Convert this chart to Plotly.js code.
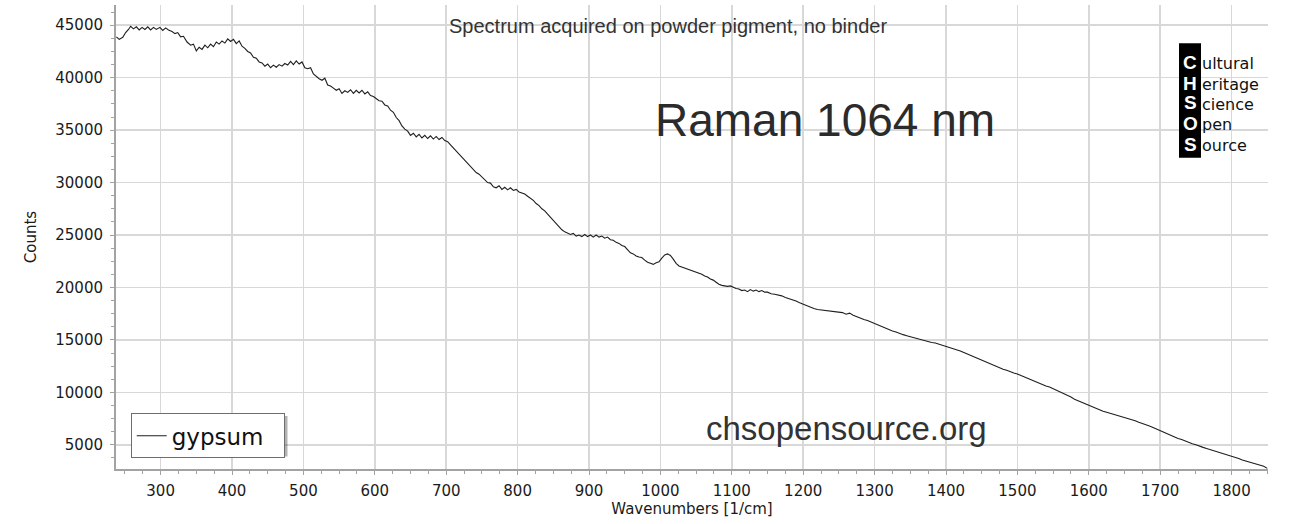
<!DOCTYPE html>
<html><head><meta charset="utf-8">
<script src="https://cdn.plot.ly/plotly-3.0.1.min.js"></script>
<style>html,body{margin:0;padding:0;background:#fff}#chart{width:1293px;height:524px}</style>
</head><body><div id="chart"></div>
<script>
const wavenumbers = [238,242,247,251,255,258,262,266,270,274,278,282,286,290,294,299,303,307,311,316,320,324,328,332,337,342,346,350,354,358,362,366,370,374,378,382,386,390,394,398,402,406,410,414,418,422,426,430,434,438,442,446,450,454,458,462,466,470,474,478,482,486,490,494,498,502,506,510,514,518,522,526,530,534,538,542,546,550,554,558,562,566,570,574,578,582,586,590,594,598,602,606,610,614,618,622,626,630,634,638,642,646,650,654,658,662,666,670,674,678,682,686,690,694,698,702,706,710,714,718,722,726,730,734,738,742,746,750,754,758,762,766,770,774,778,782,786,790,794,798,802,806,810,814,818,822,826,830,834,838,842,846,850,854,858,862,866,870,874,878,882,886,890,894,898,902,906,910,914,918,922,926,930,934,938,942,946,950,954,958,962,966,970,974,978,982,986,990,994,998,1002,1006,1010,1014,1018,1022,1026,1030,1034,1038,1042,1046,1050,1054,1058,1062,1066,1070,1074,1078,1082,1086,1090,1094,1098,1102,1106,1110,1114,1118,1122,1126,1130,1134,1138,1142,1146,1150,1155,1160,1165,1170,1175,1180,1185,1190,1195,1200,1205,1210,1215,1220,1225,1230,1235,1240,1245,1250,1255,1260,1265,1270,1275,1280,1285,1290,1295,1300,1305,1310,1315,1320,1325,1330,1335,1340,1345,1350,1355,1360,1365,1370,1375,1380,1385,1390,1395,1400,1405,1410,1415,1420,1425,1430,1435,1440,1445,1450,1455,1460,1465,1470,1475,1480,1485,1490,1495,1500,1505,1510,1515,1520,1525,1530,1535,1540,1545,1550,1555,1560,1565,1570,1575,1580,1585,1590,1595,1600,1605,1610,1615,1620,1625,1630,1635,1640,1645,1650,1655,1660,1665,1670,1675,1680,1685,1690,1695,1700,1705,1710,1715,1720,1725,1730,1735,1740,1745,1750,1755,1760,1765,1770,1775,1780,1785,1790,1795,1800,1805,1810,1815,1820,1825,1830,1835,1840,1845,1850];
const counts = [43900,43650,43850,44300,44600,44900,44650,44850,44550,44800,44600,44850,44550,44800,44600,44800,44500,44750,44550,44400,44200,44300,43900,43950,43400,43100,43200,42550,42900,42700,43100,42850,43200,42950,43400,43200,43500,43300,43700,43450,43650,43250,43500,43000,42800,42500,42350,41950,41850,41500,41400,41100,41300,40950,41200,41000,41250,41100,41350,41200,41550,41250,41600,41300,41500,40950,40850,40950,40350,40100,39900,39750,39950,39300,39200,39000,38800,38950,38500,38750,38600,38850,38500,38800,38550,38800,38450,38650,38300,38200,38000,37800,37750,37400,37300,36900,36700,36200,35900,35400,35100,34900,34500,34700,34350,34600,34250,34500,34200,34450,34150,34400,34100,34300,34000,33900,33600,33300,33000,32700,32400,32100,31800,31500,31200,30950,30800,30500,30300,30000,29950,29600,29500,29700,29350,29550,29300,29500,29250,29350,29100,29000,28900,28700,28500,28300,28000,27800,27500,27300,27000,26700,26300,26000,25700,25500,25300,25200,25050,25150,24900,25000,24850,25050,24850,25000,24800,25000,24800,24900,24700,24800,24550,24500,24300,24200,24000,23900,23600,23300,23200,23000,22900,22850,22600,22400,22300,22200,22350,22450,22800,23100,23200,23050,22700,22300,22050,21950,21850,21800,21700,21600,21500,21400,21250,21100,21000,20800,20700,20500,20300,20200,20150,20100,20150,20000,19900,19850,19700,19750,19600,19800,19650,19750,19600,19700,19550,19550,19400,19350,19300,19200,19050,18950,18800,18700,18550,18400,18250,18100,18000,17900,17850,17800,17750,17700,17650,17650,17600,17450,17550,17350,17200,17100,16950,16850,16700,16550,16400,16300,16150,16000,15850,15750,15600,15500,15400,15300,15250,15100,15000,14900,14850,14750,14700,14600,14500,14400,14300,14200,14100,13950,13800,13650,13550,13400,13250,13100,12950,12750,12600,12450,12300,12200,12100,11950,11850,11750,11600,11450,11350,11200,11050,10900,10750,10600,10500,10350,10200,10000,9850,9700,9550,9350,9200,9050,8900,8750,8600,8450,8300,8200,8100,8000,7900,7800,7700,7600,7550,7450,7300,7150,7050,6900,6800,6650,6500,6300,6150,6000,5850,5750,5600,5500,5350,5250,5100,5000,4850,4750,4650,4550,4450,4350,4250,4150,4050,3950,3850,3700,3550,3450,3350,3300,3200,3100,2950,2750];
const seriesName = "gypsum";
const subtitleText = "Spectrum acquired on powder pigment, no binder";
const bigTitleText = "Raman 1064 nm";
const siteText = "chsopensource.org";
const logoLetters = ["C","H","S","O","S"];
const logoWords = ["ultural","eritage","cience","pen","ource"];
const xTitle = "Wavenumbers [1/cm]";
const yTitle = "Counts";

const W = 1293, H = 524;
const L = 116, R = 25, T = 5, B = 55;
const pw = W - L - R, ph = H - T - B;
const px = x => (x - L) / pw;
const py = y => (H - B - y) / ph;

const axisFont = {family: "DejaVu Sans, Verdana, sans-serif", size: 15, color: "#1a1a1a"};

const annotations = [
  {text: subtitleText, x: px(668), y: py(26), xref: "paper", yref: "paper", showarrow: false,
   xanchor: "center", yanchor: "middle", font: {family: "Liberation Sans, Arial, sans-serif", size: 20, color: "#333"}},
  {text: bigTitleText, x: px(825), y: py(119.5), xref: "paper", yref: "paper", showarrow: false,
   xanchor: "center", yanchor: "middle", font: {family: "Liberation Sans, Arial, sans-serif", size: 46, color: "#2b2b2b"}},
  {text: siteText, x: px(846), y: py(428), xref: "paper", yref: "paper", showarrow: false,
   xanchor: "center", yanchor: "middle", font: {family: "Liberation Sans, Arial, sans-serif", size: 33, color: "#333"}}
];
const lineYs = [62.3, 83.3, 103, 123.5, 144.3];
logoLetters.forEach((c, i) => {
  annotations.push({text: "<b>" + c + "</b>", x: px(1190), y: py(lineYs[i]), xref: "paper", yref: "paper",
    showarrow: false, xanchor: "center", yanchor: "middle", borderpad: 0,
    font: {family: "Liberation Sans, Arial, sans-serif", size: 19, color: "#fff"}});
  annotations.push({text: logoWords[i], x: px(1201), y: py(lineYs[i] + 1), xref: "paper", yref: "paper",
    showarrow: false, xanchor: "left", yanchor: "middle", borderpad: 0,
    font: {family: "DejaVu Sans, Verdana, sans-serif", size: 16, color: "#111"}});
});

const shapes = [
  {type: "rect", xref: "paper", yref: "paper", x0: px(1179), x1: px(1201), y0: py(157.7), y1: py(43.3),
   fillcolor: "#000", line: {width: 0}, layer: "above"},
  {type: "rect", xref: "paper", yref: "paper", x0: px(134), x1: px(287.5), y0: py(456.5), y1: py(416),
   fillcolor: "rgba(0,0,0,0.3)", line: {width: 0}, layer: "above"}
];

const trace = {x: wavenumbers, y: counts, type: "scatter", mode: "lines", name: seriesName + "\u00a0\u00a0",
  line: {color: "#1e1e1e", width: 1.1}};

const layout = {
  width: W, height: H,
  margin: {l: L, r: R, t: T, b: B},
  paper_bgcolor: "#fff", plot_bgcolor: "#fff",
  showlegend: true,
  legend: {x: px(130.7), y: py(413.3), xanchor: "left", yanchor: "top", bgcolor: "#fff",
    bordercolor: "#6e6e6e", borderwidth: 1, font: {family: "DejaVu Sans, Verdana, sans-serif", size: 23, color: "#111"},
    itemwidth: 30, tracegroupgap: 0},
  xaxis: {range: [237.5, 1851], dtick: 100, tick0: 0, showgrid: true, gridcolor: "#d8d8d8", gridwidth: 1.5,
    zeroline: false, showline: true, linecolor: "#a3a3a3", linewidth: 2,
    ticks: "outside", ticklen: 4, tickcolor: "#a3a3a3", tickwidth: 1,
    minor: {dtick: 25, ticks: "outside", ticklen: 3, tickcolor: "#a3a3a3", showgrid: false},
    tickfont: axisFont, ticklabelstandoff: 3,
    title: {text: xTitle, font: axisFont, standoff: 3}},
  yaxis: {range: [2690, 46930], dtick: 5000, tick0: 0, showgrid: true, gridcolor: "#d8d8d8", gridwidth: 1.5,
    zeroline: false, showline: true, linecolor: "#a3a3a3", linewidth: 2,
    ticks: "outside", ticklen: 4, tickcolor: "#a3a3a3", tickwidth: 1,
    minor: {dtick: 1250, ticks: "outside", ticklen: 3, tickcolor: "#a3a3a3", showgrid: false},
    tickfont: axisFont, ticklabelstandoff: 4, tickformat: "d",
    title: {text: yTitle, font: axisFont, standoff: 15}},
  annotations: annotations,
  shapes: shapes
};

Plotly.newPlot("chart", [trace], layout, {displayModeBar: false, staticPlot: true});
</script>
</body></html>
